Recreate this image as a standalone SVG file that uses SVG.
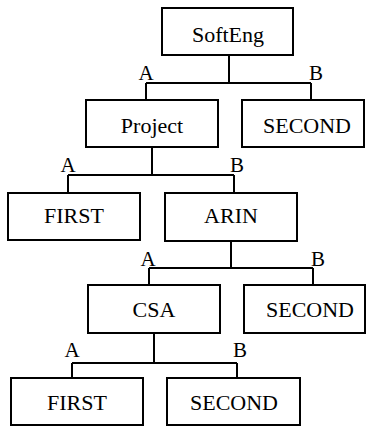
<svg xmlns="http://www.w3.org/2000/svg" width="368" height="426" viewBox="0 0 368 426">
<style>
.box{fill:#fff;stroke:#000;stroke-width:2}
.t{font-family:'Liberation Serif','DejaVu Serif',serif;font-size:22px;fill:#000;text-anchor:middle}
.l{font-family:'Liberation Serif','DejaVu Serif',serif;font-size:21px;fill:#000;text-anchor:middle}
.c{fill:none;stroke:#000;stroke-width:2}
</style>
<rect width="368" height="426" fill="#fff"/>
<g id="connectors">
<path class="c" d="M229,55V83M146,83H311M146,83V101M311,83V101"/>
<path class="c" d="M152,147V175M68,175H234M68,175V193M234,175V193"/>
<path class="c" d="M231,241V268M149,268H313M149,268V285M313,268V285"/>
<path class="c" d="M154,333V363M72,363H237M72,363V378M237,363V378"/>
<text class="l" x="146" y="80">A</text>
<text class="l" x="316" y="80">B</text>
<text class="l" x="68" y="172">A</text>
<text class="l" x="237" y="172">B</text>
<text class="l" x="148" y="266">A</text>
<text class="l" x="318" y="266">B</text>
<text class="l" x="72" y="357">A</text>
<text class="l" x="240" y="357">B</text>
</g>
<g id="softeng"><rect class="box" x="162" y="8" width="131" height="47"/><text class="t" x="228" y="42">SoftEng</text></g>
<g id="project"><rect class="box" x="86" y="100" width="132" height="47"/><text class="t" x="152" y="133">Project</text></g>
<g id="second1"><rect class="box" x="242" y="100" width="122" height="47"/><text class="t" x="307" y="133">SECOND</text></g>
<g id="first1"><rect class="box" x="8" y="193" width="132" height="47"/><text class="t" x="74" y="223">FIRST</text></g>
<g id="arin"><rect class="box" x="165" y="193" width="132" height="48"/><text class="t" x="231" y="223">ARIN</text></g>
<g id="csa"><rect class="box" x="88" y="285" width="132" height="48"/><text class="t" x="154" y="317">CSA</text></g>
<g id="second2"><rect class="box" x="244" y="285" width="121" height="48"/><text class="t" x="310" y="317">SECOND</text></g>
<g id="first2"><rect class="box" x="11" y="378" width="132" height="47"/><text class="t" x="77" y="410">FIRST</text></g>
<g id="second3"><rect class="box" x="167" y="378" width="133" height="47"/><text class="t" x="234" y="410">SECOND</text></g>
</svg>
